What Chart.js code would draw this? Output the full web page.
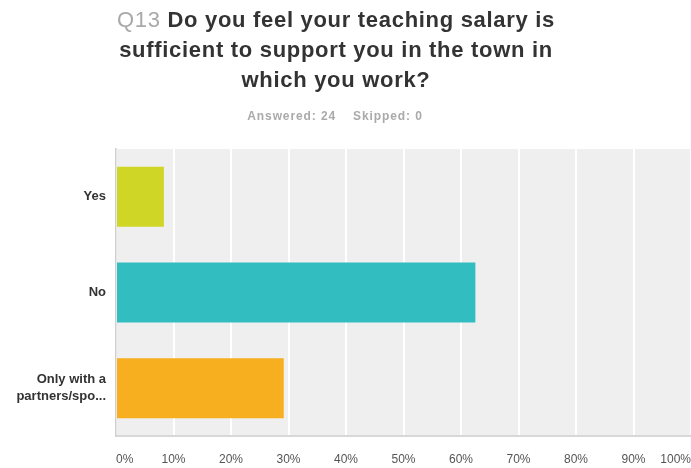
<!DOCTYPE html>
<html>
<head>
<meta charset="utf-8">
<script src="https://cdn.jsdelivr.net/npm/chart.js@4/dist/chart.umd.min.js"></script>
<style>
  html, body { margin: 0; padding: 0; background: #ffffff; }
  #wrap { position: relative; width: 691px; height: 468px; overflow: hidden; }
  #title { position: absolute; left: 0; top: 5px; width: 672px; text-align: center;
    font-family: "Liberation Sans", Arial, sans-serif; font-weight: bold; font-size: 22px;
    letter-spacing: 0.7px; line-height: 30px; color: #333333; }
  #title .q { color: #a9a9a9; font-weight: normal; }
  #sub { position: absolute; left: 0; top: 109px; width: 670px; text-align: center;
    font-family: "Liberation Sans", Arial, sans-serif; font-weight: bold; font-size: 12px;
    letter-spacing: 0.9px; color: #aaaaaa; }
  #c { position: absolute; left: 0; top: 0; }
</style>
</head>
<body>
<div id="wrap">
  <canvas id="c" width="691" height="468"></canvas>
  <div id="title"><span class="q">Q13</span> Do you feel your teaching salary is<br>sufficient to support you in the town in<br>which you work?</div>
  <div id="sub">Answered: 24&nbsp;&nbsp;&nbsp;&nbsp;Skipped: 0</div>
</div>
<script>
const categories = [["Yes"], ["No"], ["Only with a", "partners/spo..."]];
const values = [8.33, 62.5, 29.17];
const barColors = ["#d0d626", "#32bec1", "#f7ae1f"];
const xTickLabels = ["0%", "10%", "20%", "30%", "40%", "50%", "60%", "70%", "80%", "90%", "100%"];

const plotBg = {
  id: "plotBg",
  beforeDraw(chart) {
    const { ctx, chartArea: a } = chart;
    ctx.save();
    ctx.fillStyle = "#efefef";
    ctx.fillRect(a.left, a.top, a.right - a.left, a.bottom - a.top);
    ctx.restore();
  }
};

new Chart(document.getElementById("c"), {
  type: "bar",
  data: {
    labels: categories,
    datasets: [{
      data: values,
      backgroundColor: barColors,
      borderWidth: 0,
      barPercentage: 0.627,
      categoryPercentage: 1.0
    }]
  },
  options: {
    indexAxis: "y",
    responsive: false,
    animation: false,
    layout: { padding: { top: 149, right: 0, bottom: 2, left: 0 } },
    plugins: { legend: { display: false }, tooltip: { enabled: false }, title: { display: false } },
    scales: {
      x: {
        min: 0, max: 100,
        afterFit(scale) { scale.paddingLeft = 0; scale.paddingRight = 0; scale.height = 30; },
        ticks: {
          stepSize: 10,
          align: "inner",
          padding: 16,
          color: "#555555",
          font: { family: "'Liberation Sans', Arial, sans-serif", size: 12 },
          callback: (v, i) => xTickLabels[i]
        },
        grid: { color: "#ffffff", lineWidth: 2, drawTicks: false },
        border: { display: true, color: "#d8d8d8", width: 2 }
      },
      y: {
        afterFit(scale) { scale.width = 116; scale.paddingTop = 0; scale.paddingBottom = 0; },
        ticks: {
          padding: 10,
          color: "#333333",
          font: { family: "'Liberation Sans', Arial, sans-serif", size: 13, weight: "bold", lineHeight: 1.3 }
        },
        grid: { display: false, drawTicks: false },
        border: { display: true, color: "#cfcfcf", width: 1.5 }
      }
    }
  },
  plugins: [plotBg]
});
</script>
</body>
</html>
